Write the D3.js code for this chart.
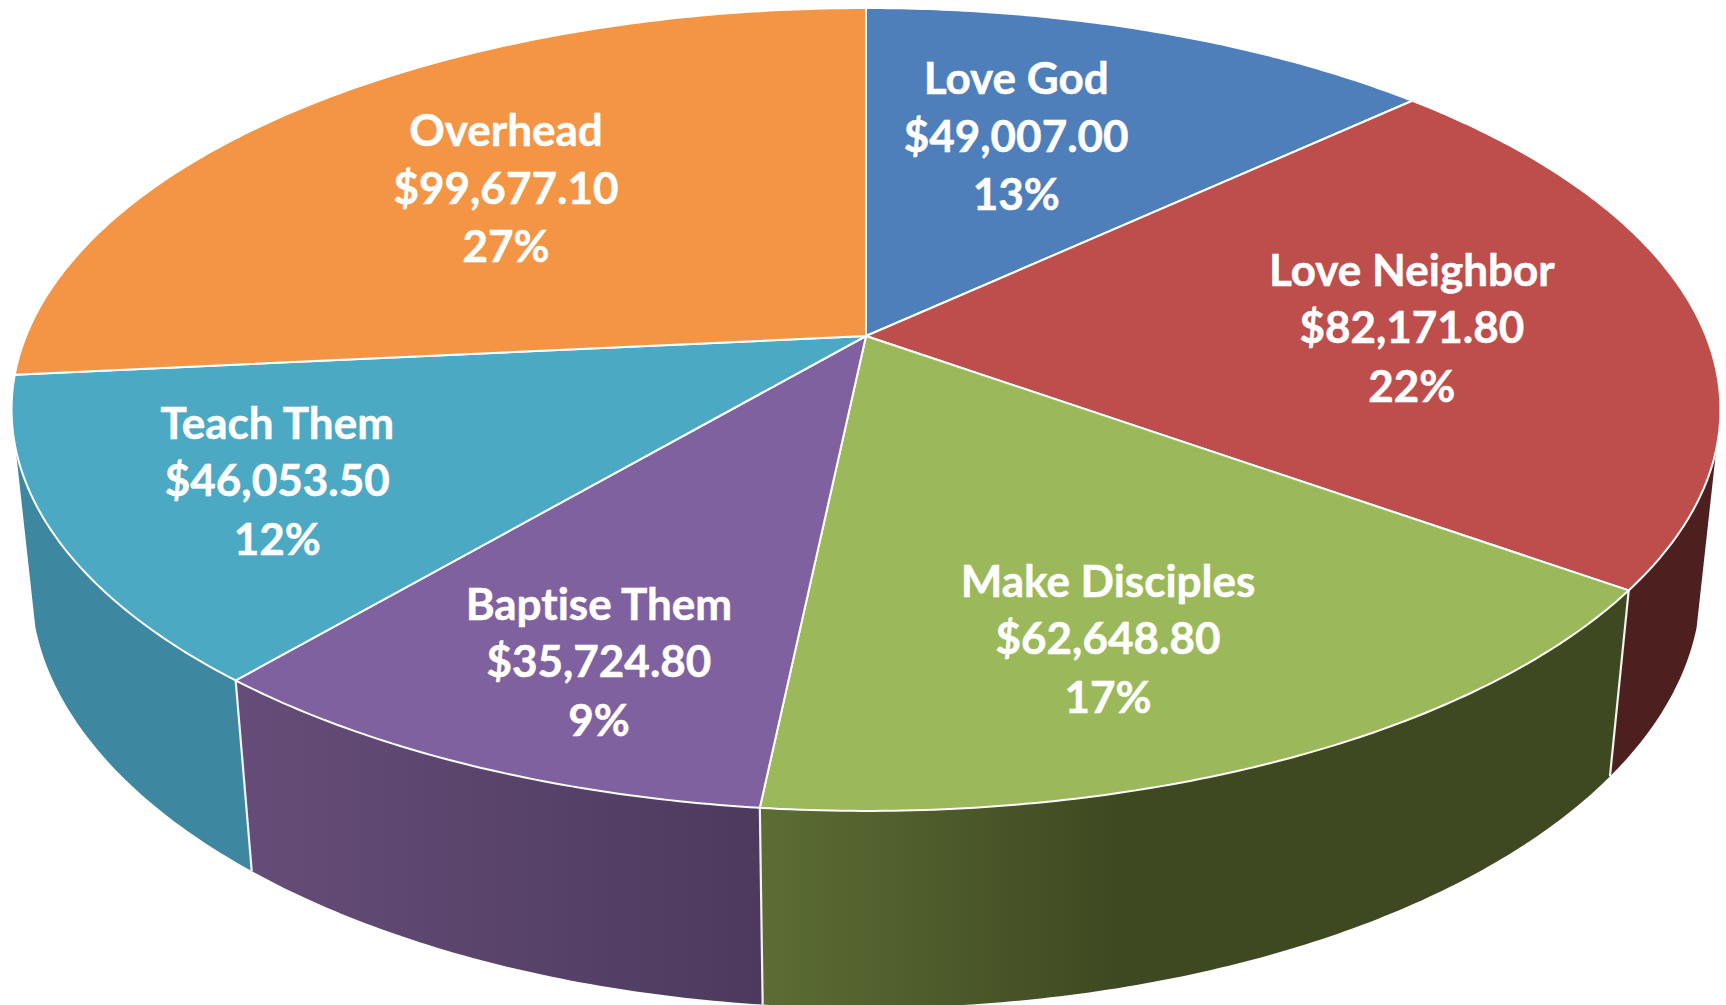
<!DOCTYPE html>
<html><head><meta charset="utf-8">
<script src="https://cdn.jsdelivr.net/npm/d3@7/dist/d3.min.js"></script>
<style>html,body{margin:0;padding:0;background:#fff;overflow:hidden}svg{display:block}text{font-variant-ligatures:none}</style>
</head><body><svg id="c" width="1726" height="1005"></svg>
<script>
const categories=["Love God","Love Neighbor","Make Disciples","Baptise Them","Teach Them","Overhead"];
const amounts=[49007.00,82171.80,62648.80,35724.80,46053.50,99677.10];
const amountLabels=["$49,007.00","$82,171.80","$62,648.80","$35,724.80","$46,053.50","$99,677.10"];
const percentLabels=["13%","22%","17%","9%","12%","27%"];
const topColors=["#4f7fba","#be4e4c","#9bb95a","#7f61a0","#4ba9c4","#f49546"];
const wallStops=[null,["#4e1f1f","#4e1f1f"],["#5c6d34","#3e4821"],["#664d79","#4c3a5d"],["#4595aa","#3e87a0"],null];

// perspective layout
const W=1726,H=1005,CX=866,CY=336,A=840,B=388,K=0.183,M=0.0225,D=176;
const SIL_R=106*Math.PI/180, SIL_L=254*Math.PI/180;
const LABEL_UV=[[.196,-.525],[.648,.0154],[.2507,.71],[-.274,.755],[-.652,.381],[-.4575,-.3686]];

const sx=d3.scaleLinear().domain([-1,1]).range([CX-A,CX+A]);
const sy=d3.scaleLinear().domain([-1,1]).range([CY-B,CY+B]);
function proj(u,v,low){
  const w=1-K*v+(low?M:0);
  return [CX+(sx(u)-CX)/w, CY+(sy(v)-CY+(low?D:0))/w];
}
const pt=(t,low)=>proj(Math.sin(t),-Math.cos(t),low);
const samples=(a,b)=>{const n=Math.max(2,Math.ceil(Math.abs(b-a)/0.01));return d3.range(n+1).map(i=>a+(b-a)*i/n);};
const line=d3.line();

const arcs=d3.pie().sort(null).value(d=>d)(amounts);
const svg=d3.select("#c");
const defs=svg.append("defs");

// side walls
const walls=svg.append("g");
arcs.forEach((a,i)=>{
  if(!wallStops[i])return;
  const t0=Math.max(a.startAngle,SIL_R), t1=Math.min(a.endAngle,SIL_L);
  const pts=[...samples(t0,t1).map(t=>pt(t,false)),...samples(t1,t0).map(t=>pt(t,true))];
  const xs=pts.map(p=>p[0]);
  const g=defs.append("linearGradient").attr("id","w"+i).attr("gradientUnits","userSpaceOnUse")
    .attr("x1",d3.min(xs)).attr("x2",d3.max(xs)).attr("y1",0).attr("y2",0);
  g.append("stop").attr("offset",0).attr("stop-color",wallStops[i][i===4?1:0]);
  if(i===2) g.append("stop").attr("offset",.42).attr("stop-color",wallStops[i][1]);
  g.append("stop").attr("offset",1).attr("stop-color",wallStops[i][1]);
  walls.append("path").attr("d",line(pts)+"Z").attr("fill",`url(#w${i})`);
});
// white seams between walls
[1,2,3].forEach(i=>{
  const t=arcs[i].endAngle;
  walls.append("path").attr("d",line([pt(t,false),pt(t,true)]))
    .attr("stroke","#f2f2f2").attr("stroke-width",2.2).attr("fill","none");
});
// top face
const face=svg.append("g");
arcs.forEach((a,i)=>{
  const pts=[[CX,CY],...samples(a.startAngle,a.endAngle).map(t=>pt(t,false))];
  face.append("path").attr("d",line(pts)+"Z").attr("fill",topColors[i])
    .attr("stroke","#fff").attr("stroke-width",2).attr("stroke-linejoin","round");
});
// labels
const labels=svg.append("g").attr("font-family","Lato, Carlito, sans-serif").attr("font-weight",700)
  .attr("font-size",44).attr("fill","#fff").attr("stroke","#fff").attr("stroke-width",0.5).attr("text-anchor","middle");
const LABEL_DY=1.5;
categories.forEach((c,i)=>{
  const [x,y]=proj(LABEL_UV[i][0],LABEL_UV[i][1],false);
  labels.append("text").attr("x",x).attr("y",y+LABEL_DY-57.5).text(c);
  labels.append("text").attr("x",x).attr("y",y+LABEL_DY).text(amountLabels[i]);
  labels.append("text").attr("x",x).attr("y",y+LABEL_DY+58.5).text(percentLabels[i]);
});
</script></body></html>
